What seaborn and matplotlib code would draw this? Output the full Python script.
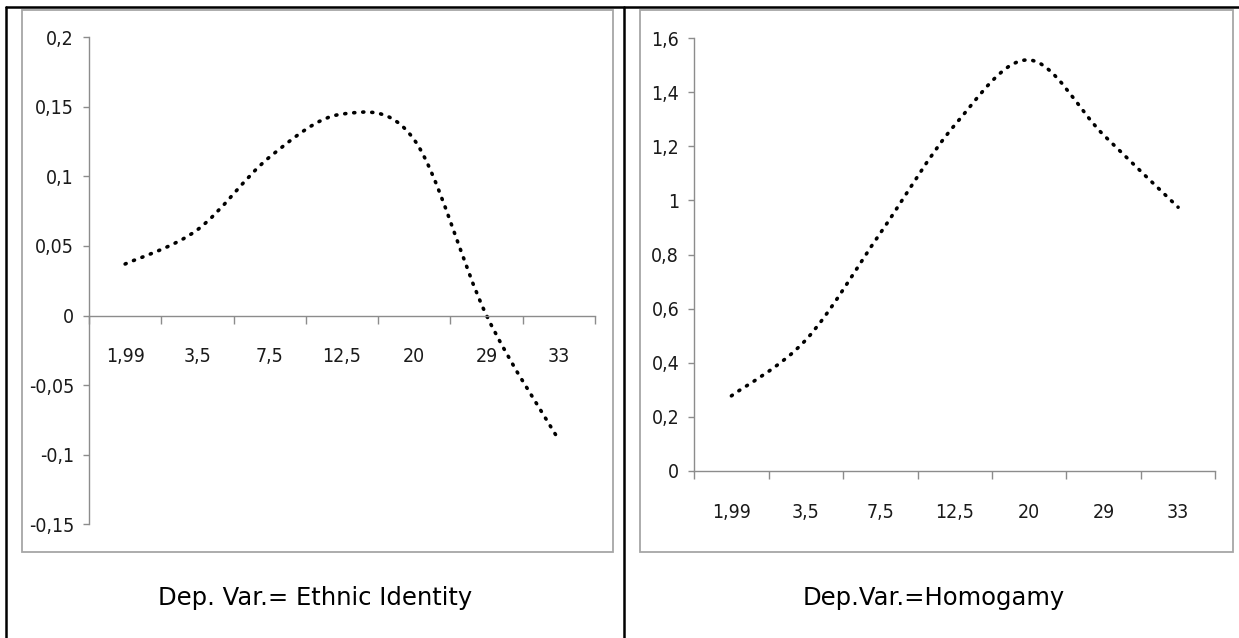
import numpy as np
import matplotlib
matplotlib.use("Agg")
import matplotlib.pyplot as plt
import seaborn as sns
from matplotlib import font_manager
from matplotlib.path import Path
from matplotlib.patches import PathPatch, Rectangle
from matplotlib.lines import Line2D

# data
categories = ["1,99", "3,5", "7,5", "12,5", "20", "29", "33"]
ethnic_identity = [0.037, 0.0616, 0.1139, 0.1447, 0.1262, 0.0, -0.0894]
homogamy = [0.277, 0.484, 0.879, 1.279, 1.52, 1.242, 0.975]

ethnic_ticks = [-0.15, -0.1, -0.05, 0, 0.05, 0.1, 0.15, 0.2]
homogamy_ticks = [0, 0.2, 0.4, 0.6, 0.8, 1, 1.2, 1.4, 1.6]

captions = ["Dep. Var.= Ethnic Identity", "Dep.Var.=Homogamy"]

W, H = 1239, 638
GRAY = "#8c8c8c"

sns.set_theme(style="white")
plt.rcParams["font.family"] = ["DejaVu Sans"]

# the axis labels use a narrow face; pick an upright regular one if there is one
tick_font = font_manager.FontProperties(family="DejaVu Sans", size=12.5)


def upright(f):
    w = f.weight if isinstance(f.weight, int) else font_manager.weight_dict.get(f.weight, 400)
    return f.style == "normal" and w == 400 and "Italic" not in f.fname and "Oblique" not in f.fname


fonts = [f for f in font_manager.fontManager.ttflist if upright(f)]
narrow = [f for f in fonts if "Narrow" in f.name or "Condensed" in f.name
          or "Condensed" in f.fname or "Narrow" in f.fname]
condensed = [f for f in fonts if f.stretch in ("condensed", "semi-condensed", 375)]
if narrow:
    tick_font = font_manager.FontProperties(fname=narrow[0].fname, size=14)
elif condensed:
    tick_font = font_manager.FontProperties(fname=condensed[0].fname, size=13.5)


def smooth_path(values):
    # excel style smoothed line: bezier segments through the points
    pts = np.column_stack([np.arange(len(values), dtype=float), np.asarray(values, float)])
    n = len(pts)
    verts, codes = [pts[0]], [Path.MOVETO]
    for i in range(n - 1):
        p0, p1 = pts[max(i - 1, 0)], pts[i]
        p2, p3 = pts[i + 1], pts[min(i + 2, n - 1)]
        verts += [p1 + (p2 - p0) / 6, p2 - (p3 - p1) / 6, p2]
        codes += [Path.CURVE4] * 3
    return Path(verts, codes)


def fmt(v):
    s = f"{round(v, 2):g}".replace(".", ",")
    return "0" if s in ("-0", "0") else s


def px_axes(fig, l, t, r, b):
    return fig.add_axes([l / W, 1 - b / H, (r - l) / W, (b - t) / H])


def draw_panel(ax, values, yticks):
    ax.set_facecolor("none")
    ax.set_xlim(-0.5, len(categories) - 0.5)
    ax.set_ylim(yticks[0], yticks[-1])
    patch = PathPatch(smooth_path(values), facecolor="none", edgecolor="black",
                      lw=2.6, linestyle=(0, (0.3, 2.2)), capstyle="round")
    ax.add_patch(patch)

    for side in ["top", "right"]:
        ax.spines[side].set_visible(False)
    ax.spines["bottom"].set_position(("data", 0))
    for side in ["bottom", "left"]:
        ax.spines[side].set_color(GRAY)
        ax.spines[side].set_linewidth(1.0)

    ax.set_xticks(range(len(categories)))
    ax.set_xticklabels(categories)
    ax.set_xticks(np.arange(-0.5, len(categories)), minor=True)
    ax.tick_params(axis="x", which="major", length=0, pad=23)
    ax.tick_params(axis="x", which="minor", direction="out", length=5.8,
                   width=1.0, color=GRAY, bottom=True)
    ax.set_yticks(yticks)
    ax.set_yticklabels([fmt(v) for v in yticks])
    ax.tick_params(axis="y", direction="out", length=4.3, width=1.0,
                   color=GRAY, pad=6.5, left=True)
    for lab in ax.get_xticklabels() + ax.get_yticklabels():
        lab.set_fontproperties(tick_font)
        lab.set_color("#1a1a1a")
    ax.grid(False)


fig = plt.figure(figsize=(W / 100, H / 100), dpi=100)
fig.patch.set_facecolor("white")

# table frame
for x0, y0, x1, y1 in [(6, 7.3, W, 7.3), (6, 7, 6, H), (624.3, 7, 624.3, H)]:
    fig.add_artist(Line2D([x0 / W, x1 / W], [1 - y0 / H, 1 - y1 / H],
                          color="black", lw=1.8, transform=fig.transFigure))

# chart boxes, kept behind the axes
for l, r in [(21.7, 613.3), (640, 1233.3)]:
    fig.add_artist(Rectangle((l / W, 1 - 551.7 / H), (r - l) / W, (551.7 - 10) / H,
                             transform=fig.transFigure, facecolor="none",
                             edgecolor="#a6a6a6", lw=1.3, zorder=-5))

ax1 = px_axes(fig, 89, 37.1, 595, 524.3)
draw_panel(ax1, ethnic_identity, ethnic_ticks)

ax2 = px_axes(fig, 694.2, 38.3, 1215.3, 470.7)
draw_panel(ax2, homogamy, homogamy_ticks)

for cx, text in zip([315, 934], captions):
    fig.text(cx / W, 1 - 598 / H, text, ha="center", va="center",
             fontsize=17.5, color="black")

fig.savefig("out.png", dpi=100)
